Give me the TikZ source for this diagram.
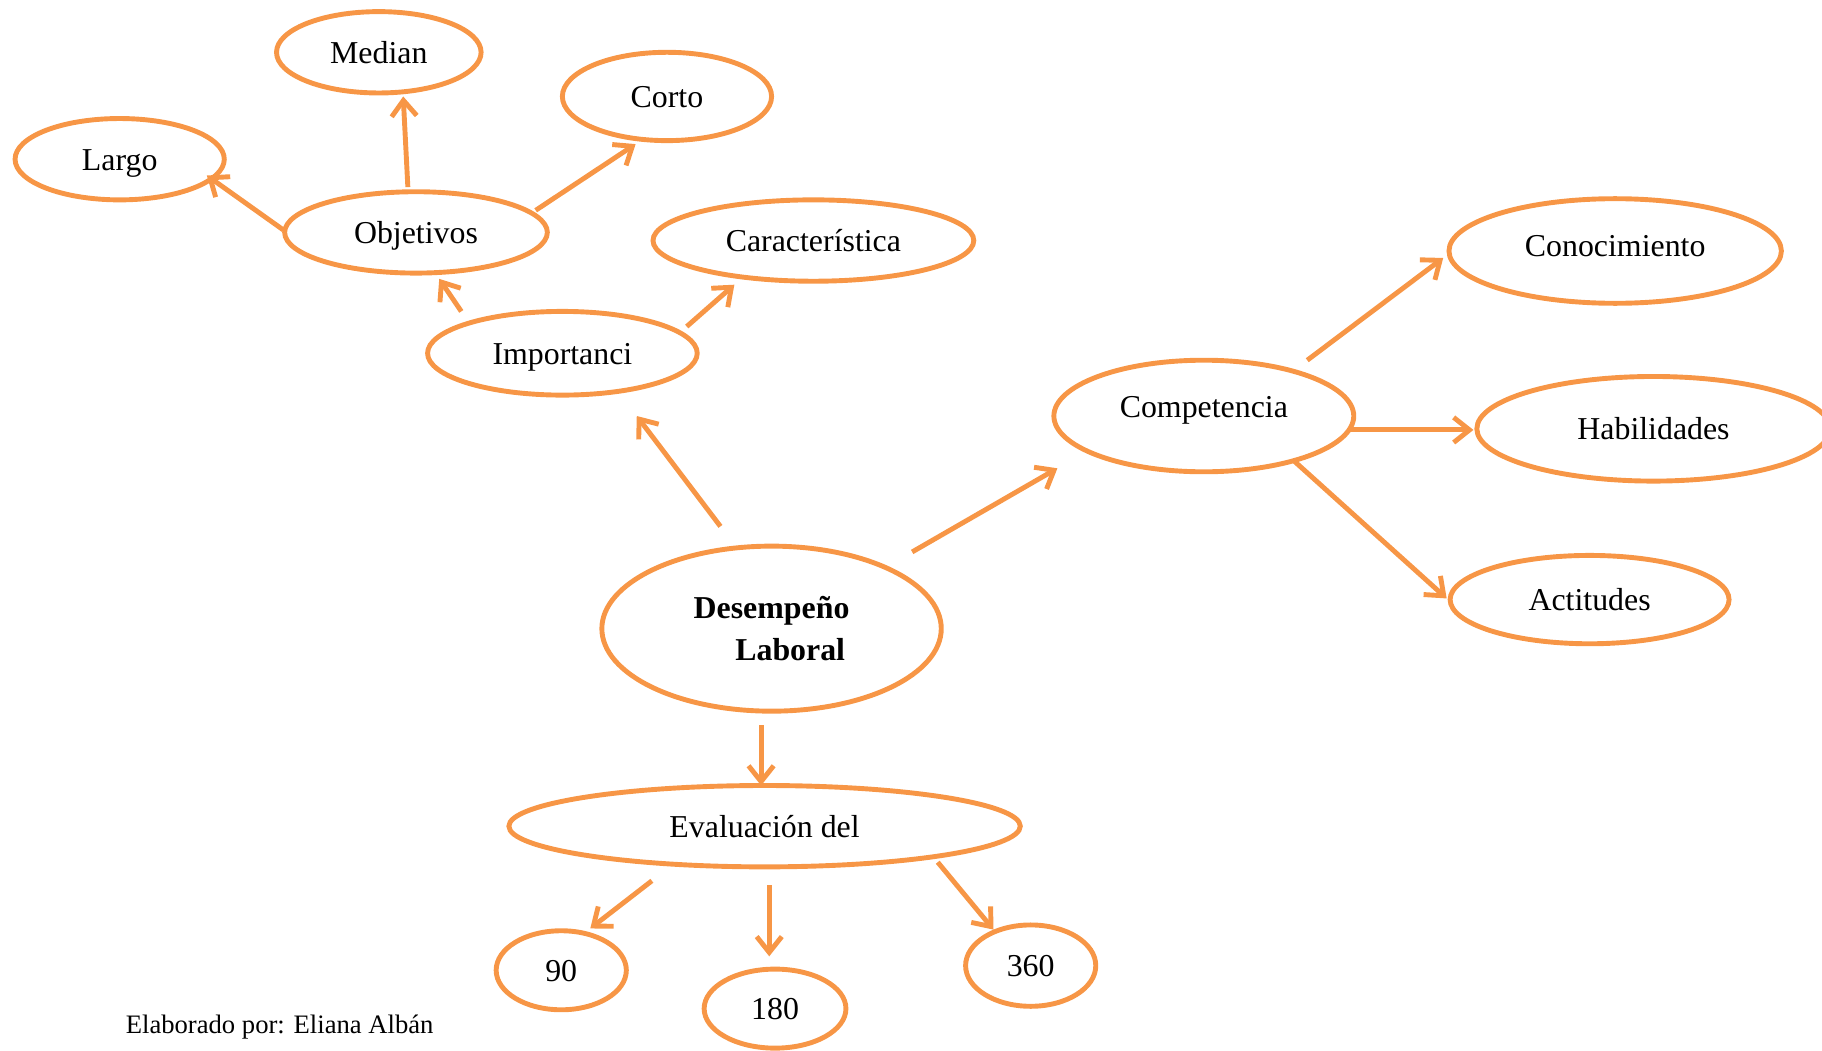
\documentclass[tikz,border=0pt]{standalone}
\usepackage{fontspec}
\setmainfont{Liberation Serif}
\usetikzlibrary{shapes.geometric,arrows.meta}
\definecolor{wordorange}{RGB}{247,150,70}
\begin{document}
\begin{tikzpicture}[x=0.025cm,y=-0.025cm,
  ell/.style 2 args={ellipse, draw=wordorange, line width=3pt, inner sep=0pt,
    minimum width=#1*0.05cm, minimum height=#2*0.05cm,
    font=\fontsize{19.5pt}{23pt}\selectfont, text=black},
  lbl/.style={text height=13.3pt, text depth=0pt},
  arr/.style={draw=wordorange, line width=3pt,
    -{Straight Barb[length=0.34cm, width=0.54cm, line width=3pt]}},
  captext/.style={font=\fontsize{16.3pt}{19pt}\selectfont, inner sep=0pt, anchor=west}]
\useasboundingbox (0,0) rectangle (1568,904);
% nodes
\node[ell={88}{35}, lbl] (med) at (326,45) {Median};
\node[ell={90}{38}, lbl] (cor) at (574,83) {Corto};
\node[ell={90}{35}, lbl] (lar) at (103,137) {Largo};
\node[ell={113}{35}, lbl] (obj) at (358,200) {Objetivos};
\node[ell={138}{35}, lbl] (car) at (700,207) {Característica};
\node[ell={116}{36}, lbl] (imp) at (484,304) {Importanci};
\node[ell={143}{45}, lbl, text depth=0.25cm] (con) at (1390,216) {Conocimiento};
\node[ell={129}{48}, lbl, text depth=0.4cm] (com) at (1036,358) {Competencia};
\node[ell={152}{45}, lbl] (hab) at (1423,369) {Habilidades};
\node[ell={120}{38}, lbl] (act) at (1368,516) {Actitudes};
\node[ell={146}{71}, align=center] (des) at (664,541)
  {\textbf{Desempeño}\\[3pt]\hspace*{1.17em}\textbf{Laboral}};
\node[ell={220}{35}, lbl] (eva) at (658,711) {Evaluación del};
\node[ell={56}{34}, lbl] (n90) at (483,835) {90};
\node[ell={61}{34}, lbl] (n180) at (667,868) {180};
\node[ell={56}{35}, lbl] (n360) at (887,831) {360};
\node[captext] (elab) at (108,884) {Elaborado por: Eliana Albán};
% connectors
\draw[arr] ([shift={(-7,-39)}]obj.center) -- ([shift={(21,38)}]med.center);
\draw[arr] ([shift={(-114,-2)}]obj.center) -- ([shift={(75,14)}]lar.center);
\draw[arr] ([shift={(103,-19)}]obj.center) -- ([shift={(-27,41)}]cor.center);
\draw[arr] ([shift={(-87,-36)}]imp.center) -- ([shift={(20,40)}]obj.center);
\draw[arr] ([shift={(107,-23)}]imp.center) -- ([shift={(-68,38)}]car.center);
\draw[arr] ([shift={(-44,-88)}]des.center) -- ([shift={(64,54)}]imp.center);
\draw[arr] ([shift={(121,-66)}]des.center) -- ([shift={(-126,45)}]com.center);
\draw[arr] ([shift={(89,-48)}]com.center) -- ([shift={(-148,6)}]con.center);
\draw[arr] ([shift={(125,12)}]com.center) -- ([shift={(-155,1)}]hab.center);
\draw[arr] ([shift={(78,39)}]com.center) -- ([shift={(-123,-1)}]act.center);
\draw[arr] ([shift={(-9,83)}]des.center) -- ([shift={(-3,-35)}]eva.center);
\draw[arr] ([shift={(-97,47)}]eva.center) -- ([shift={(25,-36)}]n90.center);
\draw[arr] ([shift={(4,51)}]eva.center) -- ([shift={(-5,-45)}]n180.center);
\draw[arr] ([shift={(149,31)}]eva.center) -- ([shift={(-32,-31)}]n360.center);
\end{tikzpicture}
\end{document}
